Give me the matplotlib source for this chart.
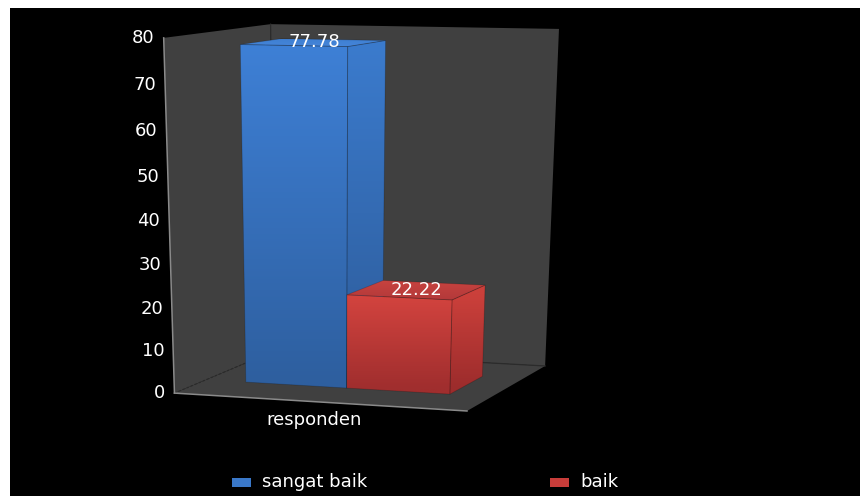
import numpy as np
import matplotlib
matplotlib.use("Agg")
import matplotlib.pyplot as plt
from matplotlib.patches import Polygon, Rectangle

# chart data
category = "responden"
series_names = ["sangat baik", "baik"]
values = [77.78, 22.22]
value_ticks = [0, 10, 20, 30, 40, 50, 60, 70, 80]
value_max = 80

# face colours per series: (top of gradient, bottom of gradient)
front_cols = [("#3e80d6", "#2e5f9f"), ("#d4443f", "#a02e2e")]
side_cols = [("#3b7bcd", "#2d5b99"), ("#cb403b", "#9c2c2c")]
top_cols = [("#4586da", "#3f7fd2"), ("#b3393a", "#c8433f")]
legend_cols = ["#3a78c9", "#c83d3a"]
wall_col = "#404040"
fs = 13

# 3d frame: unit cube (x across, depth, height/value_max) and where its corners land on the canvas
frame_world = np.array([[0, 0, 0], [1, 0, 0], [1, 1, 0], [0, 1, 0],
                        [0, 0, 1], [0, 1, 1], [1, 1, 1]], float)
frame_pix = np.array([[177, 392], [467, 412], [546, 365], [271, 352],
                      [161, 38], [274, 24], [558, 29]], float)


def fit_camera(world, pix):
    # direct linear transform for a 3x4 perspective camera
    m = pix.mean(axis=0)
    s = pix.std()
    p = (pix - m) / s
    rows = []
    for (X, Y, Z), (u, v) in zip(world, p):
        rows.append([X, Y, Z, 1, 0, 0, 0, 0, -u * X, -u * Y, -u * Z, -u])
        rows.append([0, 0, 0, 0, X, Y, Z, 1, -v * X, -v * Y, -v * Z, -v])
    _, _, vt = np.linalg.svd(np.array(rows))
    P = vt[-1].reshape(3, 4)
    T = np.array([[s, 0, m[0]], [0, s, m[1]], [0, 0, 1]])
    return T @ P


P = fit_camera(frame_world, frame_pix)


def proj(pts):
    pts = np.atleast_2d(np.asarray(pts, float))
    h = np.c_[pts, np.ones(len(pts))] @ P.T
    return h[:, :2] / h[:, 2:3]


def to_rgb(c):
    return np.array(matplotlib.colors.to_rgb(c))


def shaded_face(ax, world_pts, c_top, c_bot, y_top, y_bot, z):
    pts = proj(world_pts)
    poly = Polygon(pts, closed=True, facecolor="none", edgecolor=(0, 0, 0, 0.18),
                   lw=0.6, zorder=z + 0.1)
    ax.add_patch(poly)
    bb_top, bb_bot = pts[:, 1].min(), pts[:, 1].max()
    ys = np.linspace(bb_top, bb_bot, 256)
    t = np.clip((ys - y_top) / (y_bot - y_top), 0, 1)[:, None, None]
    img = (1 - t) * to_rgb(c_top) + t * to_rgb(c_bot)
    im = ax.imshow(img, extent=(pts[:, 0].min(), pts[:, 0].max(), bb_bot, bb_top),
                   interpolation="bilinear", aspect="auto", zorder=z)
    im.set_clip_path(poly)


fig = plt.figure(figsize=(8.6, 4.97), dpi=100, facecolor="white")
ax = fig.add_axes([0, 0, 1, 1])
ax.axis("off")
ax.add_patch(Rectangle((10, 8), 850, 488, facecolor="black", edgecolor="none", zorder=0))

# walls and floor
left_wall = [[0, 0, 0], [0, 1, 0], [0, 1, 1], [0, 0, 1]]
back_wall = [[0, 1, 0], [1, 1, 0], [1, 1, 1], [0, 1, 1]]
floor = [[0, 0, 0], [1, 0, 0], [1, 1, 0], [0, 1, 0]]
for face in (left_wall, back_wall, floor):
    ax.add_patch(Polygon(proj(face), closed=True, facecolor=wall_col, edgecolor="none", zorder=1))

# inner edges of the frame
for a, b, style in [([0, 0, 0], [0, 1, 0], (0, (2, 1.5))), ([0, 1, 0], [1, 1, 0], "-"),
                    ([0, 1, 0], [0, 1, 1], "-")]:
    seg = proj([a, b])
    ax.plot(seg[:, 0], seg[:, 1], color="#2b2b2b", lw=0.9, ls=style, zorder=1.5)
# value axis and category axis lines
for a, b in [([0, 0, 0], [0, 0, 1]), ([0, 0, 0], [1, 0, 0])]:
    seg = proj([a, b])
    ax.plot(seg[:, 0], seg[:, 1], color="#8a8a8a", lw=1.1, zorder=1.6)

# bars: gap width 80%, bars sit in the middle 40% of the depth
gap = 0.8
n = len(values)
bw = 1.0 / (n + gap)
x0 = gap / 2 * bw
d0, d1 = 0.3, 0.7
for i, v in enumerate(values):
    a, b = x0 + i * bw, x0 + (i + 1) * bw
    h = v / value_max
    y_top = proj([a, d0, h])[0, 1]
    y_bot = proj([a, d0, 0])[0, 1]
    z = 2 + i
    shaded_face(ax, [[b, d0, 0], [b, d1, 0], [b, d1, h], [b, d0, h]],
                side_cols[i][0], side_cols[i][1], y_top, y_bot, z)
    top_pts = [[a, d0, h], [b, d0, h], [b, d1, h], [a, d1, h]]
    tp = proj(top_pts)
    shaded_face(ax, top_pts, top_cols[i][1], top_cols[i][0], tp[:, 1].min(), tp[:, 1].max(), z)
    shaded_face(ax, [[a, d0, 0], [b, d0, 0], [b, d0, h], [a, d0, h]],
                front_cols[i][0], front_cols[i][1], y_top, y_bot, z)
    lx, ly = proj([(a + b) / 2, 0.5, h])[0]
    ax.text(lx, ly, f"{v:.2f}", color="white", fontsize=fs, ha="center", va="center", zorder=10)

# value tick labels
for t in value_ticks:
    u, v = proj([0, 0, t / value_max])[0]
    ax.text(u - 9, v, str(t), color="white", fontsize=fs, ha="right", va="center", zorder=10)

# category label
u, v = proj([0.5, 0, 0])[0]
ax.text(u - 4, v + 18, category, color="white", fontsize=fs, ha="center", va="center", zorder=10)

# legend
for (lx, name), col in zip([(232, series_names[0]), (550, series_names[1])], legend_cols):
    ax.add_patch(Rectangle((lx, 478), 19, 9, facecolor=col, edgecolor="none", zorder=10))
    ax.text(lx + 30, 482, name, color="white", fontsize=fs, ha="left", va="center", zorder=10)

ax.set_xlim(0, 860)
ax.set_ylim(497, 0)
fig.savefig("out.png", dpi=100, facecolor="white")
